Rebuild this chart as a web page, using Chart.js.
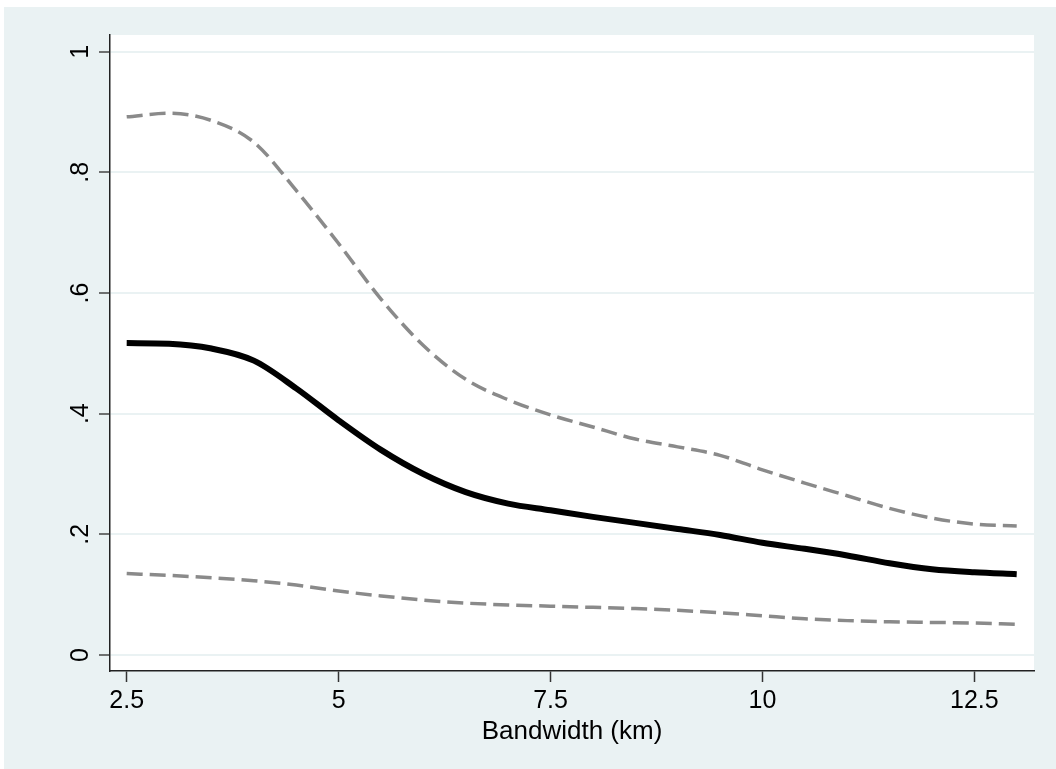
<!DOCTYPE html>
<html>
<head>
<meta charset="utf-8">
<script src="https://cdn.jsdelivr.net/npm/chart.js@4/dist/chart.umd.min.js"></script>
<style>
  body { margin: 0; background: #fff; }
  canvas { display: block; }
</style>
</head>
<body>
<canvas id="chart" width="1056" height="769"></canvas>
<script>
// bandwidth (km) and estimates
const bandwidth = [2.5, 3, 3.5, 4, 4.5, 5, 5.5, 6, 6.5, 7, 7.5, 8, 8.5, 9, 9.5, 10, 10.5, 11, 11.5, 12, 12.5, 13];
const estimate  = [0.517, 0.516, 0.508, 0.488, 0.442, 0.389, 0.34, 0.3, 0.27, 0.251, 0.24, 0.229, 0.219, 0.209, 0.199, 0.186, 0.176, 0.165, 0.152, 0.142, 0.137, 0.134];
const upperCI   = [0.892, 0.898, 0.886, 0.85, 0.77, 0.682, 0.59, 0.513, 0.457, 0.423, 0.398, 0.378, 0.358, 0.345, 0.331, 0.307, 0.285, 0.264, 0.243, 0.227, 0.217, 0.214];
const lowerCI   = [0.135, 0.132, 0.128, 0.123, 0.116, 0.106, 0.098, 0.091, 0.086, 0.083, 0.081, 0.079, 0.077, 0.074, 0.07, 0.065, 0.06, 0.057, 0.055, 0.054, 0.053, 0.051];
const xTicks = [2.5, 5, 7.5, 10, 12.5];
const yTicks = [0, 0.2, 0.4, 0.6, 0.8, 1];

const FONT = '"Liberation Sans", Arial, sans-serif';
const BG = '#eaf2f3';

function pts(ys) {
    return bandwidth.map((x, i) => ({ x: x, y: ys[i] }));
}

function yLabel(v) {
    const s = +v.toFixed(2);
    if (s === 0) return '0';
    if (s === 1) return '1';
    return String(s).replace(/^0/, '');
}

// 背景和旋转的 y 轴标签
const stataLook = {
    id: 'stataLook',
    beforeDraw(chart) {
        const { ctx, chartArea } = chart;
        ctx.save();
        ctx.fillStyle = '#fff';
        ctx.fillRect(0, 0, chart.width, chart.height);
        ctx.fillStyle = BG;
        ctx.fillRect(4, 7, chart.width - 4, chart.height - 7);
        ctx.fillStyle = '#fff';
        ctx.fillRect(chartArea.left, chartArea.top, chartArea.right - chartArea.left, chartArea.bottom - chartArea.top);
        ctx.restore();
    },
    afterDraw(chart) {
        const { ctx } = chart;
        const y = chart.scales.y;
        ctx.save();
        ctx.fillStyle = '#000';
        ctx.font = '25px ' + FONT;
        ctx.textAlign = 'center';
        ctx.textBaseline = 'alphabetic';
        y.ticks.forEach(t => {
            if (!yTicks.some(v => Math.abs(v - t.value) < 1e-6)) return;
            ctx.save();
            ctx.translate(88, y.getPixelForValue(t.value));
            ctx.rotate(-Math.PI / 2);
            ctx.fillText(yLabel(t.value), 0, 0);
            ctx.restore();
        });
        ctx.restore();
    }
};

new Chart(document.getElementById('chart'), {
    type: 'line',
    data: {
        datasets: [
            {
                label: 'upper',
                data: pts(upperCI),
                borderColor: '#8a8a8a',
                borderWidth: 3.5,
                borderDash: [16, 7],
                borderCapStyle: 'butt',
                pointRadius: 0,
                cubicInterpolationMode: 'monotone',
                fill: false
            },
            {
                label: 'lower',
                data: pts(lowerCI),
                borderColor: '#8a8a8a',
                borderWidth: 3.5,
                borderDash: [16, 7],
                borderCapStyle: 'butt',
                pointRadius: 0,
                cubicInterpolationMode: 'monotone',
                fill: false
            },
            {
                label: 'estimate',
                data: pts(estimate),
                borderColor: '#000',
                borderWidth: 6,
                pointRadius: 0,
                cubicInterpolationMode: 'monotone',
                fill: false
            }
        ]
    },
    options: {
        responsive: false,
        animation: false,
        layout: { padding: { left: 0, top: 35, right: 22, bottom: 0 } },
        plugins: {
            legend: { display: false },
            tooltip: { enabled: false }
        },
        scales: {
            x: {
                type: 'linear',
                min: 2.303,
                max: 13.204,
                afterFit(scale) { scale.height = 98; },
                afterBuildTicks(scale) { scale.ticks = xTicks.map(v => ({ value: v })); },
                border: { display: true, color: '#222', width: 1.5 },
                grid: { drawOnChartArea: false, drawTicks: true, tickLength: 11, tickColor: '#333', tickWidth: 1.5 },
                ticks: {
                    color: '#000',
                    font: { family: FONT, size: 25 },
                    padding: 4,
                    maxRotation: 0,
                    callback: v => String(v)
                },
                title: {
                    display: true,
                    text: 'Bandwidth (km)',
                    color: '#000',
                    font: { family: FONT, size: 26 },
                    padding: { top: 0, bottom: 22 }
                }
            },
            y: {
                type: 'linear',
                min: -0.0265,
                max: 1.0277,
                afterFit(scale) { scale.width = 110; },
                afterBuildTicks(scale) { scale.ticks = yTicks.map(v => ({ value: v })); },
                border: { display: true, color: '#222', width: 1.5 },
                grid: { color: '#eaf2f3', lineWidth: 2, drawTicks: true, tickLength: 11, tickColor: '#444', tickWidth: 1.5 },
                ticks: { display: false }
            }
        }
    },
    plugins: [stataLook]
});
</script>
</body>
</html>
